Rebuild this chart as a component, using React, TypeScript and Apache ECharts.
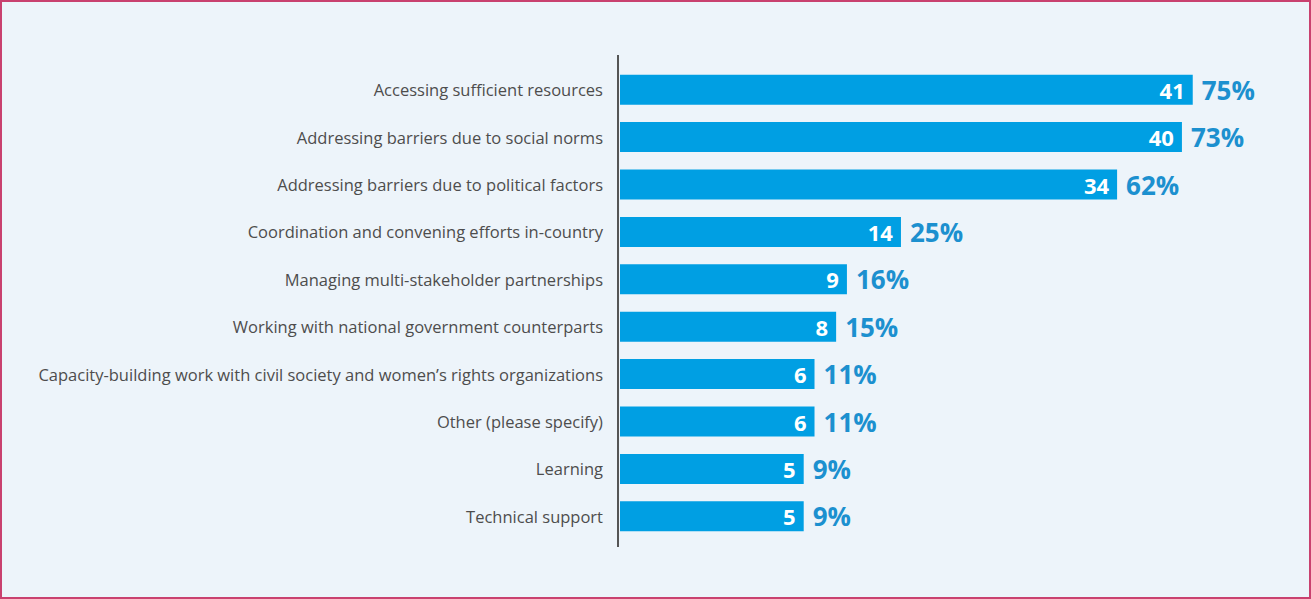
import React, { useEffect, useRef } from "react";
import * as echarts from "echarts";

const categories: string[] = [
  "Accessing sufficient resources",
  "Addressing barriers due to social norms",
  "Addressing barriers due to political factors",
  "Coordination and convening efforts in-country",
  "Managing multi-stakeholder partnerships",
  "Working with national government counterparts",
  "Capacity-building work with civil society and women\u2019s rights organizations",
  "Other (please specify)",
  "Learning",
  "Technical support",
];
const counts: number[] = [41, 40, 34, 14, 9, 8, 6, 6, 5, 5];
const percents: number[] = [75, 73, 62, 25, 16, 15, 11, 11, 9, 9];

const FONT = "'Open Sans', 'Noto Sans', sans-serif";

export default function App() {
  const ref = useRef<HTMLDivElement>(null);
  useEffect(() => {
    if (!ref.current) return;
    const chart = echarts.init(ref.current, null, { renderer: "svg" });
    chart.setOption({
      animation: false,
      backgroundColor: "#edf4fa",
      grid: { left: 620, right: 21, top: 66, bottom: 59 },
      xAxis: {
        type: "value",
        min: -12,
        max: 50,
        startValue: -12,
        show: false,
        splitLine: { show: false },
      },
      yAxis: {
        type: "category",
        inverse: true,
        data: categories,
        axisLine: { show: false },
        axisTick: { show: false },
        axisLabel: {
          margin: 17,
          color: "#4d4d4d",
          fontSize: 16.5,
          fontFamily: FONT,
        },
      },
      graphic: [
        {
          type: "rect",
          shape: { x: 1, y: 1, width: 1309, height: 597 },
          style: { fill: "none", stroke: "#c9416f", lineWidth: 2 },
          silent: true,
        },
        {
          type: "line",
          shape: { x1: 618, y1: 55, x2: 618, y2: 547 },
          style: { stroke: "#555555", lineWidth: 2 },
          silent: true,
        },
      ],
      series: [
        {
          type: "bar",
          data: counts,
          barWidth: 30,
          itemStyle: { color: "#009fe3" },
          label: {
            show: true,
            position: "insideRight",
            distance: 8,
            color: "#ffffff",
            fontSize: 22,
            fontWeight: "bold",
            fontFamily: FONT,
          },
          z: 2,
        },
        {
          type: "bar",
          data: counts,
          barWidth: 30,
          barGap: "-100%",
          itemStyle: { color: "rgba(0,0,0,0)" },
          label: {
            show: true,
            position: "right",
            distance: 9,
            color: "#1c90cf",
            fontSize: 26,
            fontWeight: "bold",
            fontFamily: FONT,
            formatter: (p: any) => percents[p.dataIndex] + "%",
          },
          z: 3,
        },
      ],
    });
    return () => chart.dispose();
  }, []);
  return (
    <div
      ref={ref}
      style={{ position: "fixed", left: 0, top: 0, width: 1311, height: 599 }}
    />
  );
}
